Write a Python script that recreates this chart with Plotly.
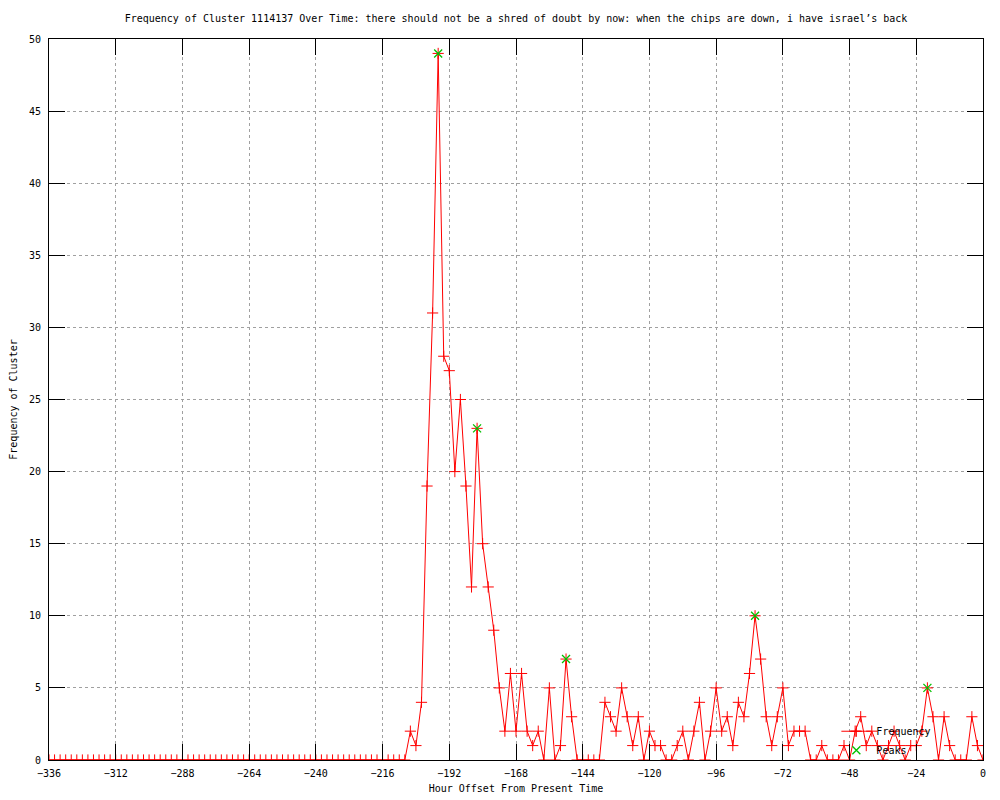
import plotly.graph_objects as go

hours = [
    -336, -334, -332, -330, -328, -326, -324, -322, -320, -318, -316, -314, -312,
    -310, -308, -306, -304, -302, -300, -298, -296, -294, -292, -290, -288,
    -286, -284, -282, -280, -278, -276, -274, -272, -270, -268, -266, -264,
    -262, -260, -258, -256, -254, -252, -250, -248, -246, -244, -242, -240,
    -238, -236, -234, -232, -230, -228, -226, -224, -222, -220, -218, -216,
    -214, -212, -210, -208, -206, -204, -202, -200, -198, -196, -194, -192,
    -190, -188, -186, -184, -182, -180, -178, -176, -174, -172, -170, -168,
    -166, -164, -162, -160, -158, -156, -154, -152, -150, -148, -146, -144,
    -142, -140, -138, -136, -134, -132, -130, -128, -126, -124, -122, -120,
    -118, -116, -114, -112, -110, -108, -106, -104, -102, -100, -98, -96,
    -94, -92, -90, -88, -86, -84, -82, -80, -78, -76, -74, -72,
    -70, -68, -66, -64, -62, -60, -58, -56, -54, -52, -50, -48,
    -46, -44, -42, -40, -38, -36, -34, -32, -30, -28, -26, -24,
    -22, -20, -18, -16, -14, -12, -10, -8, -6, -4, -2, 0,
]

frequency = [
    0, 0, 0, 0, 0, 0, 0, 0, 0, 0, 0, 0, 0,
    0, 0, 0, 0, 0, 0, 0, 0, 0, 0, 0, 0,
    0, 0, 0, 0, 0, 0, 0, 0, 0, 0, 0, 0,
    0, 0, 0, 0, 0, 0, 0, 0, 0, 0, 0, 0,
    0, 0, 0, 0, 0, 0, 0, 0, 0, 0, 0, 0,
    0, 0, 0, 0, 2, 1, 4, 19, 31, 49, 28, 27,
    20, 25, 19, 12, 23, 15, 12, 9, 5, 2, 6, 2,
    6, 2, 1, 2, 0, 5, 0, 1, 7, 3, 0, 0,
    0, 0, 0, 4, 3, 2, 5, 3, 1, 3, 0, 2,
    1, 1, 0, 0, 1, 2, 0, 2, 4, 0, 2, 5,
    2, 3, 1, 4, 3, 6, 10, 7, 3, 1, 3, 5,
    1, 2, 2, 2, 0, 0, 1, 0, 0, 0, 1, 0,
    2, 3, 1, 2, 1, 0, 1, 2, 1, 0, 1, 1,
    2, 5, 3, 0, 3, 1, 0, 0, 0, 3, 1, 0,
]

peak_hours = [-196, -182, -150, -82, -20]
peak_values = [49, 23, 7, 10, 5]

x_ticks = [-336, -312, -288, -264, -240, -216, -192, -168, -144, -120, -96, -72, -48, -24, 0]
y_ticks = [0, 5, 10, 15, 20, 25, 30, 35, 40, 45, 50]

title_text = ("Frequency of Cluster 1114137 Over Time: there should not be a shred of doubt "
              "by now: when the chips are down, i have israel\u2019s back")

FONT = "DejaVu Sans Mono"
FS = 10

fig = go.Figure()
fig.add_trace(go.Scatter(
    x=hours, y=frequency, name="Frequency", mode="lines+markers",
    line=dict(color="#ff0000", width=1),
    marker=dict(symbol="cross-thin-open", size=8, color="#ff0000",
                line=dict(color="#ff0000", width=1)),
))
fig.add_trace(go.Scatter(
    x=peak_hours, y=peak_values, name="Peaks", mode="markers",
    marker=dict(symbol="x-thin-open", size=8, color="#00c000",
                line=dict(color="#00c000", width=1.3)),
))

axis_common = dict(
    showline=True, linecolor="black", linewidth=1, mirror="allticks",
    ticks="inside", ticklen=16, tickwidth=1, tickcolor="black",
    showgrid=True, gridcolor="#a0a0a0", griddash="dot", gridwidth=1,
    zeroline=False, automargin=False,
    tickfont=dict(family=FONT, size=FS, color="black"),
)

fig.update_layout(
    width=1000, height=800,
    margin=dict(l=49, r=17, t=39, b=40),
    paper_bgcolor="white", plot_bgcolor="white",
    font=dict(family=FONT, size=FS, color="black"),
    title=dict(text=title_text, x=0.5, xref="paper", xanchor="center",
               y=1 - 18 / 800, yref="container", yanchor="middle",
               font=dict(family=FONT, size=FS, color="black")),
    xaxis=dict(range=[-336, 0], tickvals=x_ticks, ticklabelstandoff=4,
               title=dict(text="Hour Offset From Present Time", standoff=6,
                          font=dict(family=FONT, size=FS)),
               **axis_common),
    yaxis=dict(range=[0, 50], tickvals=y_ticks, ticklabelstandoff=5,
               title=dict(text="Frequency of Cluster", standoff=9,
                          font=dict(family=FONT, size=FS)),
               **axis_common),
    legend=dict(x=0.843, y=0.06, xanchor="left", yanchor="top",
                bgcolor="rgba(0,0,0,0)", borderwidth=0,
                font=dict(family=FONT, size=FS), tracegroupgap=0,
                itemwidth=30),
    showlegend=True,
)

fig.write_html("out.html", config={"displayModeBar": False},
               post_script="document.body.style.margin='0';document.body.style.overflow='hidden';")
